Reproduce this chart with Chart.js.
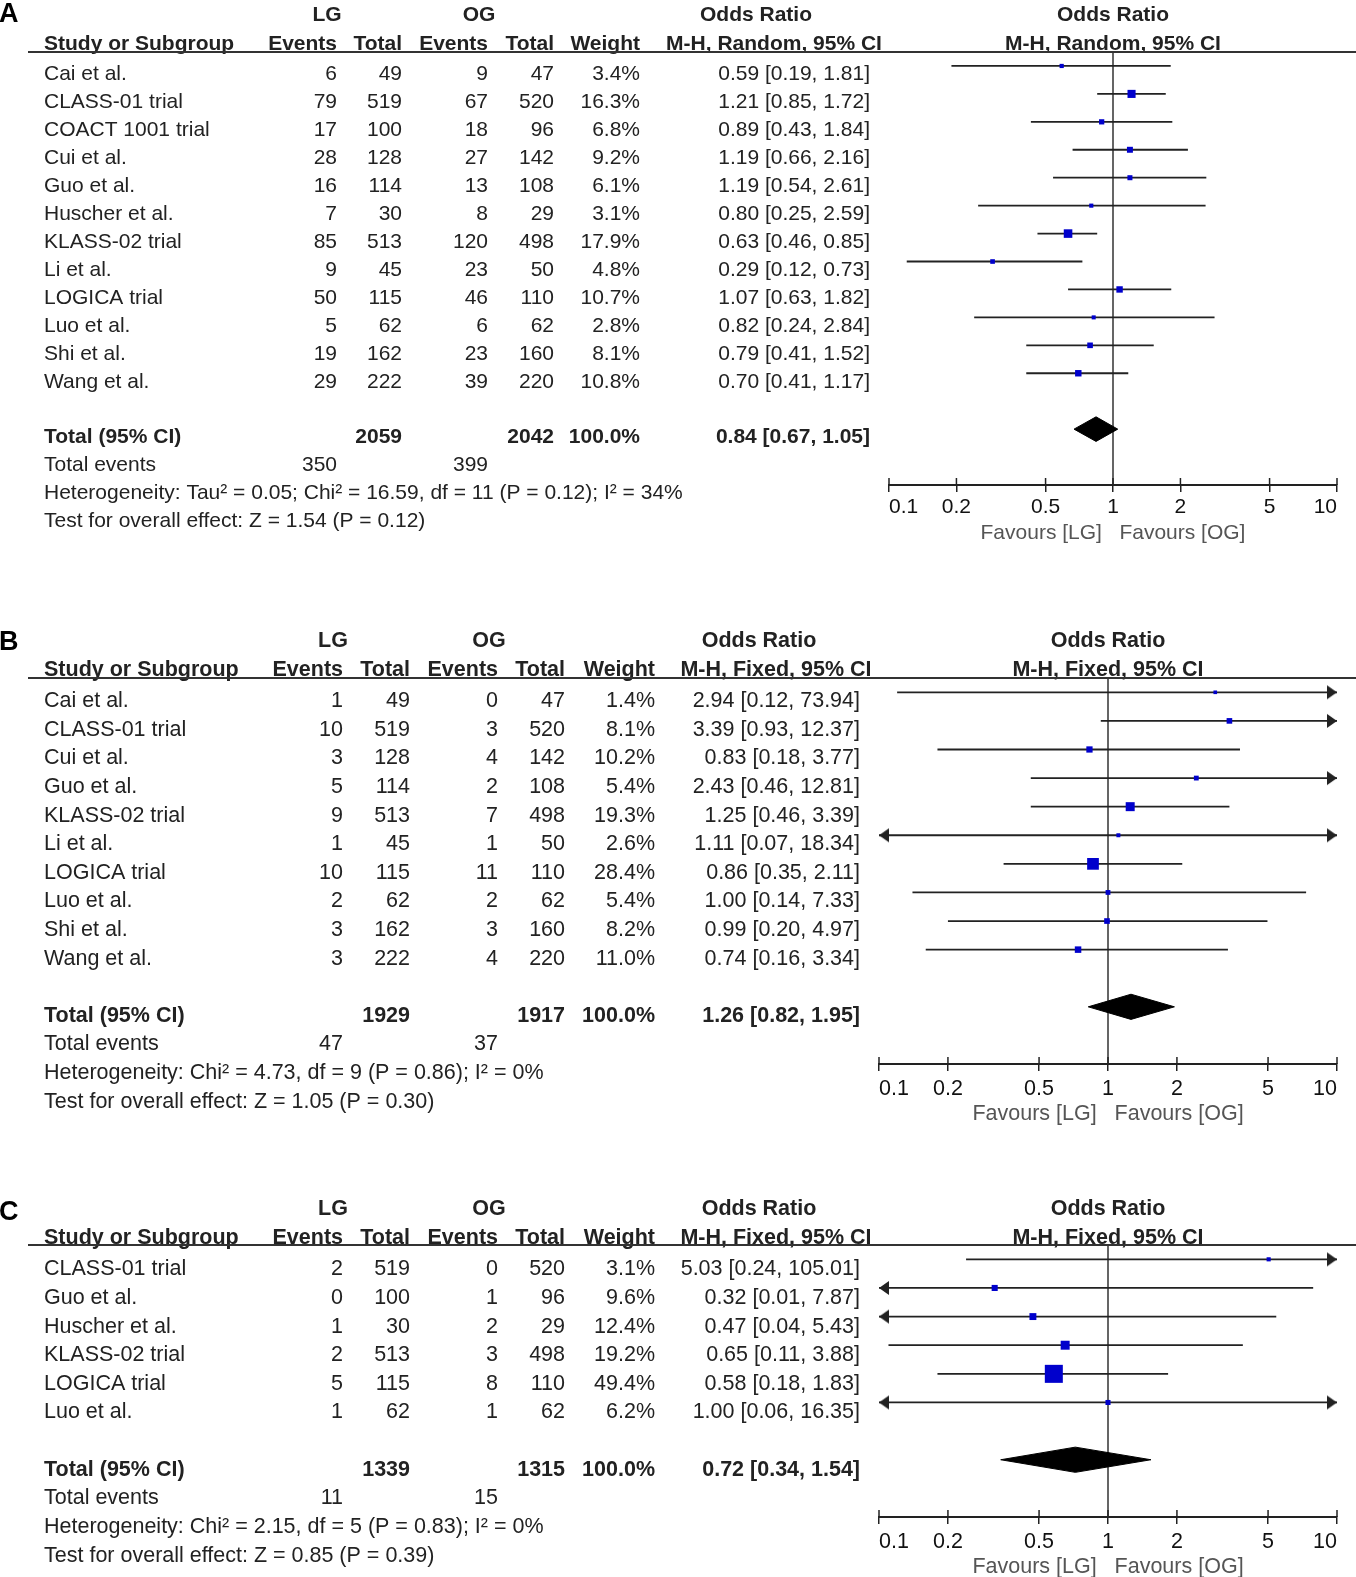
<!DOCTYPE html>
<html>
<head>
<meta charset="utf-8">
<title>LG vs OG forest plots</title>
<script src="https://cdn.jsdelivr.net/npm/chart.js@4.4.1/dist/chart.umd.min.js"></script>
<style>
  html, body { margin: 0; padding: 0; background: #fff; }
  body { width: 1356px; height: 1577px; overflow: hidden; position: relative; }
  canvas { position: absolute; left: 0; }
</style>
</head>
<body>
<canvas id="chartA" width="1356" height="550" style="top:0px"></canvas>
<canvas id="chartB" width="1356" height="531" style="top:600px"></canvas>
<canvas id="chartC" width="1356" height="404" style="top:1180px"></canvas>
<script>
// ---- Panel A: M-H, Random ----
const studiesA = ["Cai et al.", "CLASS-01 trial", "COACT 1001 trial", "Cui et al.", "Guo et al.", "Huscher et al.",
  "KLASS-02 trial", "Li et al.", "LOGICA trial", "Luo et al.", "Shi et al.", "Wang et al."];
const lgEventsA = [6, 79, 17, 28, 16, 7, 85, 9, 50, 5, 19, 29];
const lgTotalA = [49, 519, 100, 128, 114, 30, 513, 45, 115, 62, 162, 222];
const ogEventsA = [9, 67, 18, 27, 13, 8, 120, 23, 46, 6, 23, 39];
const ogTotalA = [47, 520, 96, 142, 108, 29, 498, 50, 110, 62, 160, 220];
const weightA = [3.4, 16.3, 6.8, 9.2, 6.1, 3.1, 17.9, 4.8, 10.7, 2.8, 8.1, 10.8];
const orA = [0.59, 1.21, 0.89, 1.19, 1.19, 0.80, 0.63, 0.29, 1.07, 0.82, 0.79, 0.70];
const lowA = [0.19, 0.85, 0.43, 0.66, 0.54, 0.25, 0.46, 0.12, 0.63, 0.24, 0.41, 0.41];
const highA = [1.81, 1.72, 1.84, 2.16, 2.61, 2.59, 0.85, 0.73, 1.82, 2.84, 1.52, 1.17];
const totalsA = [2059, 2042];
const totalEventsA = [350, 399];
const pooledA = [0.84, 0.67, 1.05]; // estimate, lower, upper
const hetA = "Heterogeneity: Tau² = 0.05; Chi² = 16.59, df = 11 (P = 0.12); I² = 34%";
const testA = "Test for overall effect: Z = 1.54 (P = 0.12)";

// ---- Panel B: M-H, Fixed ----
const studiesB = ["Cai et al.", "CLASS-01 trial", "Cui et al.", "Guo et al.", "KLASS-02 trial", "Li et al.",
  "LOGICA trial", "Luo et al.", "Shi et al.", "Wang et al."];
const lgEventsB = [1, 10, 3, 5, 9, 1, 10, 2, 3, 3];
const lgTotalB = [49, 519, 128, 114, 513, 45, 115, 62, 162, 222];
const ogEventsB = [0, 3, 4, 2, 7, 1, 11, 2, 3, 4];
const ogTotalB = [47, 520, 142, 108, 498, 50, 110, 62, 160, 220];
const weightB = [1.4, 8.1, 10.2, 5.4, 19.3, 2.6, 28.4, 5.4, 8.2, 11.0];
const orB = [2.94, 3.39, 0.83, 2.43, 1.25, 1.11, 0.86, 1.00, 0.99, 0.74];
const lowB = [0.12, 0.93, 0.18, 0.46, 0.46, 0.07, 0.35, 0.14, 0.20, 0.16];
const highB = [73.94, 12.37, 3.77, 12.81, 3.39, 18.34, 2.11, 7.33, 4.97, 3.34];
const totalsB = [1929, 1917];
const totalEventsB = [47, 37];
const pooledB = [1.26, 0.82, 1.95];
const hetB = "Heterogeneity: Chi² = 4.73, df = 9 (P = 0.86); I² = 0%";
const testB = "Test for overall effect: Z = 1.05 (P = 0.30)";

// ---- Panel C: M-H, Fixed ----
const studiesC = ["CLASS-01 trial", "Guo et al.", "Huscher et al.", "KLASS-02 trial", "LOGICA trial", "Luo et al."];
const lgEventsC = [2, 0, 1, 2, 5, 1];
const lgTotalC = [519, 100, 30, 513, 115, 62];
const ogEventsC = [0, 1, 2, 3, 8, 1];
const ogTotalC = [520, 96, 29, 498, 110, 62];
const weightC = [3.1, 9.6, 12.4, 19.2, 49.4, 6.2];
const orC = [5.03, 0.32, 0.47, 0.65, 0.58, 1.00];
const lowC = [0.24, 0.01, 0.04, 0.11, 0.18, 0.06];
const highC = [105.01, 7.87, 5.43, 3.88, 1.83, 16.35];
const totalsC = [1339, 1315];
const totalEventsC = [11, 15];
const pooledC = [0.72, 0.34, 1.54];
const hetC = "Heterogeneity: Chi² = 2.15, df = 5 (P = 0.83); I² = 0%";
const testC = "Test for overall effect: Z = 0.85 (P = 0.39)";

const axisTicks = [0.1, 0.2, 0.5, 1, 2, 5, 10];
const X_MIN = 0.1, X_MAX = 10;

const FONT = '"Liberation Sans", Arial, Helvetica, sans-serif';
const INK = "#222";
const BLUE = "#0000cc";

// arrow heads for clipped confidence intervals (tip at the image centre)
function arrowImage(dir) {
  const c = document.createElement("canvas");
  c.width = 26; c.height = 16;
  const g = c.getContext("2d");
  g.fillStyle = INK;
  g.beginPath();
  if (dir > 0) { g.moveTo(13, 8); g.lineTo(3, 1); g.lineTo(3, 15); }
  else { g.moveTo(13, 8); g.lineTo(23, 1); g.lineTo(23, 15); }
  g.closePath();
  g.fill();
  return c;
}
const arrowRight = arrowImage(1);
const arrowLeft = arrowImage(-1);

const ci = (v, lo, hi) => `${v.toFixed(2)} [${lo.toFixed(2)}, ${hi.toFixed(2)}]`;

// draws the left hand table, the header rule and the inner half of the axis ticks
function tablePlugin(p) {
  return {
    id: "table" + p.letter,
    afterDraw(chart) {
      const ctx = chart.ctx;
      const ys = chart.scales.y;
      const xs = chart.scales.x;
      const c = p.cols;
      const n = p.studies.length;
      const rowY = (v) => ys.getPixelForValue(v) + p.shift;
      const put = (txt, x, v, align, bold) => {
        ctx.font = (bold ? "bold " : "") + p.size + "px " + FONT;
        ctx.textAlign = align;
        ctx.fillText(txt, x, rowY(v));
      };
      ctx.save();
      ctx.textBaseline = "middle";

      ctx.fillStyle = "#000";
      ctx.font = "bold 27px " + FONT;
      ctx.textAlign = "left";
      ctx.fillText(p.letter, -1, rowY(p.letterRow));

      ctx.fillStyle = INK;
      const plotMid = xs.getPixelForValue(1);
      put("LG", c.lgMid, -2.12, "center", true);
      put("OG", c.ogMid, -2.12, "center", true);
      put("Odds Ratio", c.orMid, -2.12, "center", true);
      put("Odds Ratio", plotMid, -2.12, "center", true);
      put("Study or Subgroup", 44, -1.1, "left", true);
      put("Events", c.evL, -1.1, "right", true);
      put("Total", c.totL, -1.1, "right", true);
      put("Events", c.evO, -1.1, "right", true);
      put("Total", c.totO, -1.1, "right", true);
      put("Weight", c.wt, -1.1, "right", true);
      put(p.method, c.methodMid, -1.1, "center", true);
      put(p.method, plotMid, -1.1, "center", true);

      ctx.strokeStyle = "#333";
      ctx.lineWidth = 2;
      ctx.beginPath();
      ctx.moveTo(28, chart.chartArea.top);
      ctx.lineTo(1356, chart.chartArea.top);
      ctx.stroke();

      p.studies.forEach((s, i) => {
        put(s, 44, i, "left");
        put(String(p.lgEvents[i]), c.evL, i, "right");
        put(String(p.lgTotal[i]), c.totL, i, "right");
        put(String(p.ogEvents[i]), c.evO, i, "right");
        put(String(p.ogTotal[i]), c.totO, i, "right");
        put(p.weight[i].toFixed(1) + "%", c.wt, i, "right");
        put(ci(p.or[i], p.low[i], p.high[i]), c.ci, i, "right");
      });

      put("Total (95% CI)", 44, n + 1, "left", true);
      put(String(p.totals[0]), c.totL, n + 1, "right", true);
      put(String(p.totals[1]), c.totO, n + 1, "right", true);
      put("100.0%", c.wt, n + 1, "right", true);
      put(ci(p.pooled[0], p.pooled[1], p.pooled[2]), c.ci, n + 1, "right", true);
      put("Total events", 44, n + 2, "left");
      put(String(p.events[0]), c.evL, n + 2, "right");
      put(String(p.events[1]), c.evO, n + 2, "right");
      put(p.het, 44, n + 3, "left");
      put(p.test, 44, n + 4, "left");

      // RevMan ticks cross the axis line, Chart.js only draws the lower half
      ctx.strokeStyle = INK;
      ctx.lineWidth = 1.5;
      xs.ticks.forEach((t) => {
        const px = xs.getPixelForValue(t.value);
        ctx.beginPath();
        ctx.moveTo(px, xs.top - 7);
        ctx.lineTo(px, xs.top);
        ctx.stroke();
      });
      ctx.restore();
    }
  };
}

function makePanel(canvasId, p) {
  const n = p.studies.length;
  const ciLines = [];
  const leftArrows = [];
  const rightArrows = [];
  p.or.forEach((v, i) => {
    ciLines.push({ x: Math.max(p.low[i], X_MIN), y: i }, { x: Math.min(p.high[i], X_MAX), y: i }, { x: 1, y: null });
    if (p.low[i] < X_MIN) leftArrows.push({ x: X_MIN, y: i });
    if (p.high[i] > X_MAX) rightArrows.push({ x: X_MAX, y: i });
  });
  const [est, lo, hi] = p.pooled;
  const yt = n + 1;
  const diamond = [{ x: lo, y: yt }, { x: est, y: yt - 0.44 }, { x: hi, y: yt }, { x: est, y: yt + 0.44 }, { x: lo, y: yt }];

  return new Chart(document.getElementById(canvasId), {
    type: "scatter",
    data: {
      datasets: [
        {
          // study estimates, box size follows the weight
          data: p.or.map((v, i) => ({ x: v, y: i, w: p.weight[i] })),
          pointStyle: "rect",
          backgroundColor: BLUE,
          borderWidth: 0,
          pointRadius: (ctx) => (ctx.raw ? (3.2 + 0.3 * ctx.raw.w) / Math.SQRT2 : 3)
        },
        { data: rightArrows, pointStyle: arrowRight, clip: false },
        { data: leftArrows, pointStyle: arrowLeft, clip: false },
        {
          type: "line",
          data: ciLines,
          borderColor: INK,
          borderWidth: 1.8,
          pointRadius: 0,
          spanGaps: false,
          tension: 0,
          clip: false
        },
        {
          type: "line",
          data: diamond,
          borderColor: "#000",
          backgroundColor: "#000",
          borderWidth: 1,
          pointRadius: 0,
          fill: "shape",
          tension: 0
        },
        {
          type: "line",
          data: [{ x: 1, y: -0.5 }, { x: 1, y: n + 3 }],
          borderColor: "#333",
          borderWidth: 1.5,
          pointRadius: 0
        }
      ]
    },
    options: {
      responsive: false,
      animation: false,
      events: [],
      layout: { padding: { left: p.left, right: 19, top: p.top, bottom: 4 } },
      plugins: { legend: { display: false }, tooltip: { enabled: false } },
      scales: {
        x: {
          type: "logarithmic",
          min: X_MIN,
          max: X_MAX,
          afterBuildTicks: (s) => { s.ticks = axisTicks.map((v) => ({ value: v })); },
          afterFit: (s) => { s.height = p.axisH; },
          ticks: {
            align: "inner",
            autoSkip: false,
            maxRotation: 0,
            padding: p.tickPad,
            color: "#111",
            font: { family: FONT, size: p.size },
            callback: (v) => String(v)
          },
          grid: { drawOnChartArea: false, drawTicks: true, tickLength: 7, color: INK, lineWidth: 1.5 },
          border: { display: true, color: INK, width: 2 },
          title: {
            display: true,
            text: "Favours [LG]   Favours [OG]",
            color: "#555",
            font: { family: FONT, size: p.size },
            padding: { top: 0, bottom: 0 }
          }
        },
        y: { type: "linear", display: false, reverse: true, min: -0.5, max: n + 3 }
      }
    },
    plugins: [tablePlugin(p)]
  });
}

const colsA = { lgMid: 327, ogMid: 479, orMid: 756, methodMid: 774, evL: 337, totL: 402, evO: 488, totO: 554, wt: 640, ci: 870 };
const colsBC = { lgMid: 333, ogMid: 489, orMid: 759, methodMid: 776, evL: 343, totL: 410, evO: 498, totO: 565, wt: 655, ci: 860 };

makePanel("chartA", {
  letter: "A", method: "M-H, Random, 95% CI", cols: colsA, left: 889, top: 52,
  size: 21, shift: 8.5, letterRow: -2.16, axisH: 61, tickPad: 3,
  studies: studiesA, lgEvents: lgEventsA, lgTotal: lgTotalA, ogEvents: ogEventsA, ogTotal: ogTotalA,
  weight: weightA, or: orA, low: lowA, high: highA, totals: totalsA, events: totalEventsA,
  pooled: pooledA, het: hetA, test: testA
});
makePanel("chartB", {
  letter: "B", method: "M-H, Fixed, 95% CI", cols: colsBC, left: 879, top: 78,
  size: 21.5, shift: 9, letterRow: -2.05, axisH: 63, tickPad: 5,
  studies: studiesB, lgEvents: lgEventsB, lgTotal: lgTotalB, ogEvents: ogEventsB, ogTotal: ogTotalB,
  weight: weightB, or: orB, low: lowB, high: highB, totals: totalsB, events: totalEventsB,
  pooled: pooledB, het: hetB, test: testB
});
makePanel("chartC", {
  letter: "C", method: "M-H, Fixed, 95% CI", cols: colsBC, left: 879, top: 65,
  size: 21.5, shift: 10, letterRow: -2.0, axisH: 63, tickPad: 5,
  studies: studiesC, lgEvents: lgEventsC, lgTotal: lgTotalC, ogEvents: ogEventsC, ogTotal: ogTotalC,
  weight: weightC, or: orC, low: lowC, high: highC, totals: totalsC, events: totalEventsC,
  pooled: pooledC, het: hetC, test: testC
});
</script>
</body>
</html>
